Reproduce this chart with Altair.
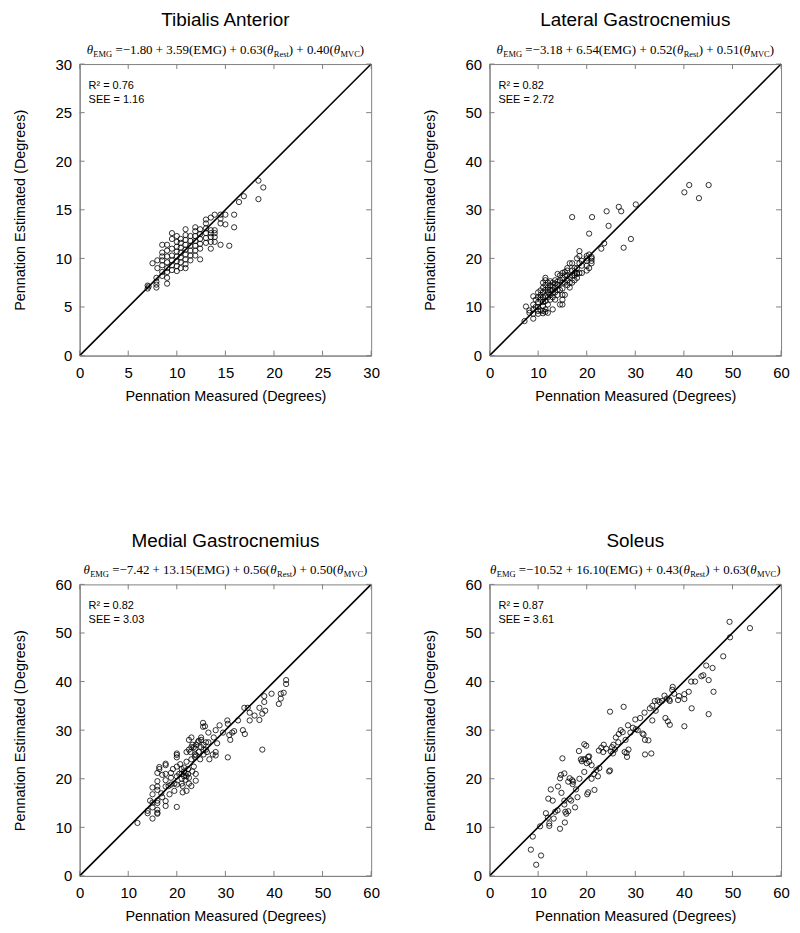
import altair as alt
import pandas as pd

# ---------------- data ----------------
ta_measured = [7.0, 7.0, 7.1, 7.5, 7.9, 7.9, 7.9, 7.9, 8.0, 8.0,
               8.5, 8.5, 8.5, 8.5, 8.5, 8.5, 8.5,
               9.0, 9.0, 9.0, 9.0, 9.0, 9.0, 9.0, 9.0,
               9.5, 9.5, 9.5, 9.5, 9.5, 9.5, 9.5,
               10.0, 10.0, 10.0, 10.0, 10.0, 10.0, 10.0, 10.0,
               10.4, 10.4, 10.4, 10.4, 10.4, 10.4, 10.4,
               10.9, 10.9, 10.9, 10.9, 10.9, 10.9, 10.9, 10.9, 10.9,
               11.4, 11.4, 11.4, 11.4, 11.4, 11.4,
               11.9, 11.9, 11.9, 11.9, 11.9, 11.9, 11.9,
               12.4, 12.4, 12.4, 12.4, 12.4, 12.4,
               13.0, 13.0, 13.0, 13.0, 13.0, 13.0,
               13.5, 13.5, 13.5, 13.5, 13.5, 13.5,
               13.9, 13.9, 13.9, 13.9, 13.9,
               14.5, 14.5, 14.5, 14.5, 15.0, 15.0, 15.4, 15.9, 15.9,
               16.4, 16.9, 18.4, 18.4, 18.9]
ta_estimated = [7.2, 6.9, 7.1, 9.5, 8.0, 7.6, 7.3, 7.0, 9.0, 9.8,
                9.8, 9.3, 8.6, 8.2, 10.2, 11.4, 10.6,
                7.4, 8.0, 8.6, 9.0, 9.6, 10.2, 10.8, 11.4,
                8.8, 9.3, 9.8, 10.3, 12.6, 12.0, 11.0,
                8.7, 9.2, 9.7, 10.2, 10.7, 11.2, 11.7, 12.3,
                9.0, 9.6, 10.1, 10.6, 11.1, 11.6, 12.0,
                9.4, 9.9, 10.4, 10.9, 11.4, 11.9, 12.4, 13.0, 9.0,
                9.8, 10.3, 10.8, 11.3, 11.8, 12.3,
                10.3, 10.8, 11.3, 11.8, 12.3, 12.8, 13.2,
                11.0, 11.5, 12.0, 12.5, 13.0, 9.9,
                11.6, 12.1, 12.6, 13.1, 13.6, 14.0,
                11.7, 12.2, 12.6, 12.9, 14.2, 11.0,
                11.7, 12.2, 12.6, 12.9, 14.5,
                14.5, 14.1, 13.6, 11.4, 14.5, 13.5, 11.3, 14.5, 13.2,
                15.8, 16.4, 18.0, 16.1, 17.3]

lg_measured = [7.2, 7.5, 8.2, 8.2, 9.0, 9.0, 9.0, 9.0, 9.0, 9.5, 9.5,
               10.0, 10.0, 10.0, 10.0, 10.0, 10.0,
               10.5, 10.5, 10.5, 10.5, 10.5,
               11.0, 11.0, 11.0, 11.0, 11.0, 11.0, 11.0, 11.0,
               11.5, 11.5, 11.5, 11.5, 11.5, 11.5, 11.5, 11.5,
               12.0, 12.0, 12.0, 12.0, 12.0, 12.0, 12.0,
               12.5, 12.5, 12.5, 12.5, 12.5,
               13.0, 13.0, 13.0, 13.0, 13.0, 13.0,
               13.5, 13.5, 13.5, 13.5, 13.5,
               14.0, 14.0, 14.0, 14.0, 14.0,
               14.5, 14.5, 14.5, 14.5,
               15.0, 15.0, 15.0, 15.0, 15.0, 15.0, 15.0,
               15.5, 15.5, 15.5, 15.5,
               16.0, 16.0, 16.0, 16.0, 16.0,
               16.5, 16.5, 16.5, 16.5,
               17.0, 17.0, 17.0, 17.0, 17.0,
               17.5, 17.5, 17.5, 17.5,
               18.0, 18.0, 18.0, 18.0, 18.0,
               18.5, 18.5, 18.5, 18.5,
               19.0, 19.0, 19.0,
               20.0, 20.0, 20.0, 20.0, 20.0,
               20.5, 20.5, 20.5,
               21.0, 21.0, 21.0, 21.0, 21.1,
               23.0, 23.6, 24.1, 24.5, 26.6, 27.1, 27.6, 29.1, 30.1,
               40.1, 41.1, 43.1, 45.1]
lg_estimated = [7.1, 10.1, 9.3, 8.8, 7.6, 8.6, 10.5, 12.2, 9.5, 10.0, 11.5,
                8.6, 10.0, 11.0, 12.0, 13.0, 9.2,
                9.3, 11.5, 12.5, 13.4, 12.0,
                8.7, 9.2, 10.2, 11.0, 12.0, 13.0, 14.0, 15.0,
                9.0, 9.5, 11.2, 12.3, 13.5, 14.5, 15.5, 16.0,
                8.8, 10.5, 12.0, 13.0, 14.0, 15.0, 13.5,
                11.5, 12.5, 13.5, 14.5, 15.3,
                9.5, 12.0, 13.5, 14.2, 15.0, 12.8,
                11.5, 13.0, 14.0, 14.8, 15.5,
                12.5, 13.5, 14.5, 16.8, 15.2,
                10.5, 13.5, 15.5, 16.5,
                10.5, 11.5, 12.5, 13.8, 15.0, 16.0, 17.0,
                12.5, 15.0, 16.5, 17.2,
                14.5, 15.5, 16.5, 17.5, 18.0,
                14.0, 15.0, 16.2, 19.0,
                15.0, 16.5, 17.5, 19.0, 28.5,
                15.5, 16.5, 17.0, 18.0,
                16.0, 17.0, 18.0, 20.0, 16.8,
                17.0, 19.0, 20.5, 21.5,
                17.0, 18.5, 19.5,
                17.5, 18.5, 19.5, 20.5, 20.0,
                18.0, 20.8, 25.1,
                19.0, 19.5, 20.0, 20.3, 28.5,
                22.0, 23.1, 29.7, 26.7, 30.6, 29.7, 22.2, 24.0, 31.1,
                33.6, 35.1, 32.4, 35.1]

mg_measured = [11.9, 14.0, 14.0, 15.0, 16.0, 16.0,
               15.0, 15.0, 15.0, 15.0, 14.5,
               16.0, 16.0, 16.0, 16.0, 16.0, 16.0, 16.0,
               16.4, 16.4, 16.8, 17.0,
               17.7, 17.7, 17.7, 17.7, 17.7, 17.7, 17.7,
               17.0, 18.8, 18.8, 18.8, 18.3, 18.5,
               19.2, 19.5, 19.5,
               20.0, 20.0, 20.0, 20.0, 20.0, 20.0, 20.0,
               20.5, 20.7, 21.0, 21.0, 21.0, 21.0, 21.2, 21.2,
               21.5, 21.5, 21.5, 21.8, 21.8, 22.0, 22.0, 22.0,
               22.3, 22.3, 22.5, 22.5, 22.5, 23.0, 23.0,
               22.8, 23.0, 23.2, 23.5, 23.7, 23.8, 23.9, 23.9,
               23.5, 24.0, 24.3, 24.5, 24.8, 25.0, 25.0,
               25.4, 25.4, 25.8, 25.5, 25.5,
               26.5, 26.5, 26.0, 26.7, 26.2,
               22.5, 23.2, 23.8, 24.5, 25.0, 25.5, 26.0, 24.0, 23.0, 22.0,
               27.4, 27.6, 28.0, 28.0, 28.0, 28.3,
               28.8, 29.5, 30.4, 30.5, 30.5, 30.8, 31.0,
               31.4, 31.8, 32.6, 33.6, 34.0, 33.9, 34.6,
               35.0, 35.0, 36.0, 37.0, 37.0, 37.6, 37.6,
               38.0, 38.0, 38.2, 39.5, 41.0, 41.4, 41.4,
               42.0, 42.5, 42.5]
mg_estimated = [10.9, 12.9, 13.4, 11.8, 12.8, 13.0,
                14.1, 15.1, 16.8, 18.2, 15.5,
                13.6, 15.0, 17.7, 18.4, 21.2, 19.5, 15.5,
                22.0, 22.4, 17.0, 16.2,
                18.4, 19.7, 21.0, 15.4, 14.4, 23.1, 22.8,
                20.8, 18.8, 20.2, 21.2, 18.5, 16.8,
                22.0, 17.5, 19.0,
                22.5, 24.4, 24.9, 25.2, 14.2, 18.8, 20.5,
                21.0, 23.0, 19.0, 20.0, 21.0, 22.0, 17.2, 18.5,
                20.5, 21.5, 22.3, 19.8, 21.2, 20.5, 17.5, 23.5,
                21.0, 22.0, 19.0, 20.2, 28.0, 28.5, 26.5,
                25.5, 18.5, 21.5, 22.5, 24.5, 25.0, 21.0, 19.6,
                26.5, 27.0, 27.5, 25.5, 24.0, 28.5, 28.0,
                31.5, 30.7, 30.8, 26.0, 25.0,
                29.5, 27.5, 27.5, 24.0, 25.5,
                26.0, 27.0, 26.2, 27.8, 26.5, 27.0, 26.0, 24.8, 24.0, 25.5,
                25.0, 28.5, 30.0, 25.5, 24.8, 27.3,
                31.0, 29.5, 32.0, 31.3, 24.4, 29.0, 28.0,
                29.5, 29.8, 32.0, 30.0, 29.2, 34.6, 34.6,
                33.6, 32.0, 33.0, 34.6, 32.1, 26.0, 33.4,
                37.0, 35.8, 34.0, 37.5, 35.4, 37.5, 36.5,
                37.7, 40.3, 39.5]

sol_measured = [8.5, 9.6, 10.6, 8.9, 10.4, 12.3, 12.3, 11.6,
                12.6, 12.1, 14.1, 13.2, 13.5, 14.5, 15.0,
                14.5, 14.7, 15.4, 14.8, 15.4, 15.4, 15.6, 15.8, 15.5,
                16.2, 16.5, 16.2, 17.1, 17.2, 17.6, 18.1, 17.8,
                18.5, 18.4, 18.8, 19.3, 19.7, 19.5, 19.9, 19.5,
                20.1, 20.3, 20.3, 20.5, 21.6, 21.0, 21.5, 22.0,
                22.3, 22.6, 22.5, 23.0, 23.4, 24.6, 24.8, 24.8,
                25.2, 25.5, 25.8, 25.4, 25.0, 26.6, 27.0, 27.4,
                27.6, 28.0, 28.2, 28.3, 28.6, 29.0, 30.0, 30.1,
                31.5, 31.7, 32.0, 31.9, 32.0, 32.7, 33.3, 33.0,
                33.5, 34.0, 34.2, 34.6, 36.2, 36.7, 36.0, 37.1,
                37.0, 37.1, 37.7, 37.6, 38.8, 40.1, 40.1, 40.1,
                41.0, 41.6, 41.5, 42.3, 43.6, 44.0, 44.6, 45.9,
                45.1, 46.1, 45.1, 48.1, 49.4, 49.5, 53.6,
                19.0, 20.0, 20.5, 21.0,
                23.5, 24.0, 26.5, 27.8, 26.0, 28.5, 29.5, 30.5, 31.0, 33.5,
                35.0, 35.5, 36.5, 38.0, 39.0,
                12.0, 13.0, 14.0, 16.5, 17.0, 16.8]
sol_estimated = [5.4, 2.3, 4.2, 8.1, 10.2, 10.8, 10.3, 12.9,
                 17.8, 15.9, 18.4, 11.8, 13.2, 9.7, 24.2,
                 20.1, 20.8, 21.1, 17.1, 15.5, 14.7, 13.2, 12.8, 11.0,
                 13.3, 20.1, 19.4, 18.9, 19.4, 14.1, 16.2, 17.8,
                 20.0, 25.7, 24.0, 24.0, 24.0, 27.1, 26.8, 21.4,
                 16.8, 17.2, 24.5, 23.5, 17.7, 20.0, 21.0, 21.8,
                 20.5, 22.2, 25.8, 26.4, 25.5, 21.5, 21.7, 33.8,
                 26.5, 27.0, 26.0, 25.2, 25.6, 29.2, 30.0, 29.6,
                 34.8, 28.0, 25.3, 24.5, 26.0, 29.5, 32.2, 30.2,
                 29.3, 29.1, 28.0, 33.6, 25.0, 27.9, 25.2, 34.5,
                 35.0, 36.0, 34.0, 36.1, 32.5, 31.8, 37.1, 31.1,
                 36.3, 36.0, 38.9, 38.3, 36.2, 37.4, 36.4, 30.8,
                 37.9, 34.5, 40.0, 40.0, 41.1, 41.3, 43.3, 42.8,
                 40.3, 37.9, 33.3, 45.2, 52.3, 49.1, 51.0,
                 23.6, 23.2, 24.6, 22.8,
                 27.0, 26.2, 27.5, 25.5, 28.5, 31.0, 30.5, 30.0, 32.5, 32.0,
                 35.8, 36.0, 36.5, 37.5, 37.0,
                 12.0, 15.5, 13.5, 15.8, 19.7, 15.5]

titles = ["Tibialis Anterior", "Lateral Gastrocnemius", "Medial Gastrocnemius", "Soleus"]
intercepts = ["−1.80", "−3.18", "−7.42", "−10.52"]
emg_coef = ["3.59", "6.54", "13.15", "16.10"]
rest_coef = ["0.63", "0.52", "0.56", "0.43"]
mvc_coef = ["0.40", "0.51", "0.50", "0.63"]
r_squared = ["0.76", "0.82", "0.82", "0.87"]
see_values = ["1.16", "2.72", "3.03", "3.61"]
axis_max = [30, 60, 60, 60]
tick_values = [[0, 5, 10, 15, 20, 25, 30],
               [0, 10, 20, 30, 40, 50, 60],
               [0, 10, 20, 30, 40, 50, 60],
               [0, 10, 20, 30, 40, 50, 60]]

# ---------------- style ----------------
W = H = 293
GRAY = "#808080"
SANS = "Liberation Sans"
SERIF = "Liberation Serif"
MAIN_FS = 13
SUB_FS = 8.5
TICK_LEN = 5

TIMES_W = {' ': 250, '=': 564, '−': 564, '+': 564, '.': 250, '(': 333, ')': 333,
           'E': 611, 'M': 889, 'G': 722, 'R': 667, 'e': 444, 's': 389, 't': 278,
           'V': 722, 'C': 667}


def text_width(s, fs):
    return sum(TIMES_W.get(c, 500) for c in s) / 1000.0 * fs


def one_text(text, x, y, fs, font, style="normal", align="left"):
    return alt.Chart(pd.DataFrame({"t": [text]})).mark_text(
        align=align, baseline="alphabetic", font=font, fontSize=fs,
        fontStyle=style, color="black"
    ).encode(text="t:N", x=alt.value(x), y=alt.value(y))


def panel(i, meas, est):
    vmax = axis_max[i]
    ticks = tick_values[i]
    scale = alt.Scale(domain=[0, vmax], nice=False, zero=True)
    df = pd.DataFrame({"m": meas, "e": est})

    points = alt.Chart(df).mark_point(
        shape="circle", filled=False, color="black", size=28, strokeWidth=0.8, opacity=1
    ).encode(
        x=alt.X("m:Q", scale=scale,
                axis=alt.Axis(values=ticks, title="Pennation Measured (Degrees)")),
        y=alt.Y("e:Q", scale=scale,
                axis=alt.Axis(values=ticks, title="Pennation Estimated (Degrees)")),
    )

    line = alt.Chart(pd.DataFrame({"m": [0, vmax], "e": [0, vmax]})).mark_line(
        color="black", strokeWidth=1.6
    ).encode(x=alt.X("m:Q", scale=scale), y=alt.Y("e:Q", scale=scale))

    tx = pd.DataFrame({"m": ticks})
    ty = pd.DataFrame({"e": ticks})
    bottom = alt.Chart(tx).mark_rule(color=GRAY, strokeWidth=1).encode(
        x=alt.X("m:Q", scale=scale), y=alt.value(H), y2=alt.value(H - TICK_LEN))
    top = alt.Chart(tx).mark_rule(color=GRAY, strokeWidth=1).encode(
        x=alt.X("m:Q", scale=scale), y=alt.value(0), y2=alt.value(TICK_LEN))
    left = alt.Chart(ty).mark_rule(color=GRAY, strokeWidth=1).encode(
        y=alt.Y("e:Q", scale=scale), x=alt.value(0), x2=alt.value(TICK_LEN))
    right = alt.Chart(ty).mark_rule(color=GRAY, strokeWidth=1).encode(
        y=alt.Y("e:Q", scale=scale), x=alt.value(W), x2=alt.value(W - TICK_LEN))

    # equation, built from segments so that subscripts can be drawn smaller
    parts = [("θ", "theta"), ("EMG", "sub"),
             (" =−" + intercepts[i][1:] + " + " + emg_coef[i] + "(EMG) + " + rest_coef[i] + "(", "main"),
             ("θ", "theta"), ("Rest", "sub"),
             (") + " + mvc_coef[i] + "(", "main"),
             ("θ", "theta"), ("MVC", "sub"), (")", "main")]
    widths = []
    for s, kind in parts:
        if kind == "theta":
            widths.append(0.52 * MAIN_FS)
        elif kind == "sub":
            widths.append(text_width(s, SUB_FS))
        else:
            widths.append(text_width(s, MAIN_FS))
    total = sum(widths)
    x = W / 2 - total / 2
    eq_layers = []
    base_y = -10
    for (s, kind), w in zip(parts, widths):
        # leading spaces are collapsed in SVG text: turn them into an offset
        lead = len(s) - len(s.lstrip(" "))
        fs = SUB_FS if kind == "sub" else MAIN_FS
        xs = x + lead * 0.25 * fs
        s2 = s.lstrip(" ")
        if kind == "theta":
            eq_layers.append(one_text(s2, xs, base_y, MAIN_FS, SERIF, "italic"))
        elif kind == "sub":
            eq_layers.append(one_text(s2, xs, base_y + 3, SUB_FS, SERIF))
        else:
            eq_layers.append(one_text(s2, xs, base_y, MAIN_FS, SERIF))
        x += w

    title = one_text(titles[i], W / 2, -38, 19, SANS, align="center")
    r2 = one_text("R² = " + r_squared[i], 9, 25, 11, SANS)
    see = one_text("SEE = " + see_values[i], 9, 39, 11, SANS)

    return alt.layer(points, line, bottom, top, left, right, title, r2, see,
                     *eq_layers).properties(width=W, height=H)


charts = [panel(0, ta_measured, ta_estimated),
          panel(1, lg_measured, lg_estimated),
          panel(2, mg_measured, mg_estimated),
          panel(3, sol_measured, sol_estimated)]

chart = alt.concat(*charts, columns=2, spacing={"row": 128, "column": 41}).properties(
    padding={"left": 3, "top": 0, "right": 2, "bottom": 0}
).configure_view(
    stroke=GRAY, strokeWidth=1
).configure_axis(
    grid=False, ticks=False, tickSize=0, domainColor=GRAY, domainWidth=1,
    labelFont=SANS, labelFontSize=15, labelColor="black",
    titleFont=SANS, titleFontSize=14.5, titleFontWeight="normal", titleColor="black",
    labelFlush=False, labelOverlap=False
).configure_axisX(
    labelPadding=10, titlePadding=9
).configure_axisY(
    labelPadding=8, titlePadding=28
)

chart.save("out.html", embed_options={"renderer": "svg", "actions": False})
